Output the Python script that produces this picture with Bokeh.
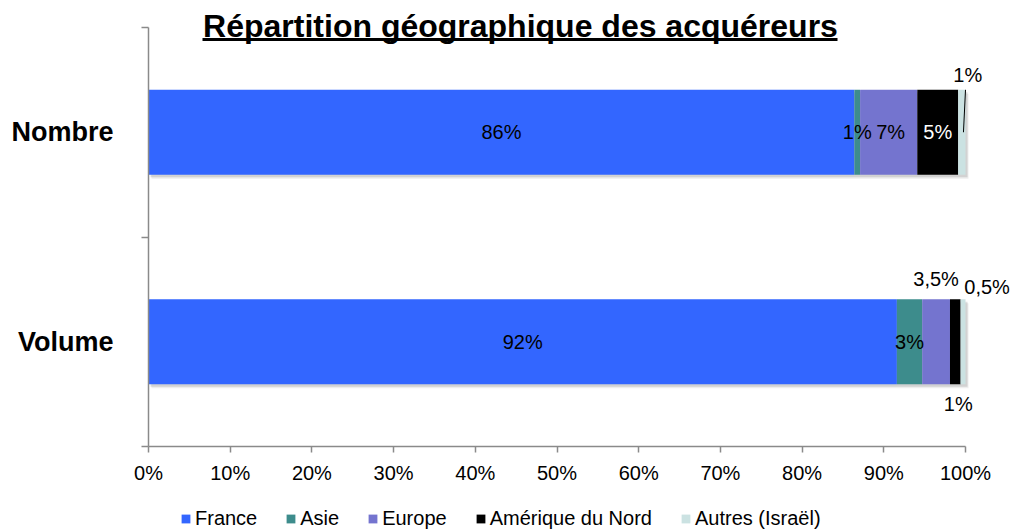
from bokeh.plotting import figure
from bokeh.layouts import column
from bokeh.models import (ColumnDataSource, Range1d, FixedTicker, Legend, LegendItem)
from bokeh.core.properties import value
from bokeh.embed import file_html
from bokeh.resources import INLINE

# ---------------- data ----------------
categories = ["Nombre", "Volume"]
series = ["France", "Asie", "Europe", "Amérique du Nord", "Autres (Israël)"]
nombre_values = [86.4, 0.7, 7.0, 5.0, 0.9]
volume_values = [91.6, 3.1, 3.4, 1.3, 0.6]
nombre_labels = ["86%", "1%", "7%", "5%", "1%"]
volume_labels = ["92%", "3%", "3,5%", "1%", "0,5%"]
x_ticks = [0, 10, 20, 30, 40, 50, 60, 70, 80, 90, 100]
x_tick_labels = ["0%", "10%", "20%", "30%", "40%", "50%", "60%", "70%", "80%", "90%", "100%"]
title_text = "Répartition géographique des acquéreurs"

# ---------------- styles ----------------
colors = ["#3366ff", "#3d8c8c", "#7474cf", "#000000", "#cbe2e2"]
label_colors = {"Nombre": ["black", "black", "black", "white", "black"],
                "Volume": ["black", "black", "black", "black", "black"]}
# pixel offsets of the data labels (x, y)
label_offsets = {"Nombre": [(0, 0), (0, 0), (2, 0), (0, 0), (6, -57)],
                 "Volume": [(0, 0), (0, 0), (0, -63), (3, 62), (24, -55)]}
FONT = "Liberation Sans"
AXIS_COLOR = "#8a8a8a"
BAR_H = 0.405
PX_X = 8.17     # pixels per percent
PX_Y = 209.5    # pixels per category unit
FIG_W = 1010
LEFT = 148
TOP = 8
FRAME_H = 438

values = {"Nombre": nombre_values, "Volume": volume_values}
texts = {"Nombre": nombre_labels, "Volume": volume_labels}
n = len(categories)
ypos = {c: n - i - 0.5 for i, c in enumerate(categories)}

p = figure(width=FIG_W, height=TOP + FRAME_H + 52, output_backend="svg",
           toolbar_location=None,
           x_range=Range1d(0, (FIG_W - LEFT) / PX_X), y_range=Range1d(0, FRAME_H / PX_Y),
           min_border_left=LEFT, min_border_right=0, min_border_top=TOP,
           min_border_bottom=52, x_axis_location="below", y_axis_location="left")
p.outline_line_color = None
p.xgrid.visible = False
p.ygrid.visible = False
p.background_fill_color = "white"

# shadows
for c in categories:
    tot = sum(values[c])
    for dx, dy, a in [(3, 4, 0.10), (2, 2.5, 0.18)]:
        p.hbar(y=[ypos[c] - dy / PX_Y], left=[dx / PX_X], right=[tot + dx / PX_X],
               height=BAR_H, color="#555555", alpha=a, line_color=None)

# stacked bars
keys = ["s%d" % i for i in range(len(series))]
src = {"y": [ypos[c] for c in categories]}
for i, k in enumerate(keys):
    src[k] = [values[c][i] for c in categories]
source = ColumnDataSource(src)
p.hbar_stack(keys, y="y", height=BAR_H, color=colors, line_color=None, source=source)

# data labels
lx, ly, lt, lxo, lyo, lc = [], [], [], [], [], []
for c in categories:
    cum = 0
    for i, v in enumerate(values[c]):
        lx.append(cum + v / 2)
        ly.append(ypos[c])
        lt.append(texts[c][i])
        lxo.append(label_offsets[c][i][0])
        lyo.append(label_offsets[c][i][1])
        lc.append(label_colors[c][i])
        cum += v
p.text(x=lx, y=ly, text=lt, x_offset=lxo, y_offset=lyo, text_color=lc,
       text_align="center", text_baseline="middle", text_font=value(FONT),
       text_font_size="20px")

# leader line for the small "Autres" share of Nombre
tot_n = sum(values["Nombre"])
p.segment(x0=[tot_n], y0=[ypos["Nombre"] + BAR_H / 2], x1=[tot_n - 0.25],
          y1=[ypos["Nombre"]], line_color="black", line_width=1)

# title (underlined) — positions in page pixels converted to data units
y_of = lambda py: (TOP + FRAME_H - py) / PX_Y
x_of = lambda px: (px - LEFT) / PX_X
p.text(x=[x_of(520)], y=[y_of(25)], text=[title_text],
       text_align="center", text_baseline="middle", text_font=value(FONT),
       text_font_style="bold", text_font_size="32px", text_color="black")
p.segment(x0=[x_of(202)], x1=[x_of(837)], y0=[y_of(39)], y1=[y_of(39)],
          line_color="black", line_width=3)

# x axis
xa = p.xaxis[0]
xa.ticker = FixedTicker(ticks=x_ticks, minor_ticks=[])
xa.major_label_overrides = {t: l for t, l in zip(x_ticks, x_tick_labels)}
xa.bounds = (0, 100)
xa.axis_line_color = AXIS_COLOR
xa.axis_line_width = 1.5
xa.major_tick_line_color = AXIS_COLOR
xa.major_tick_line_width = 1.5
xa.major_tick_out = 6
xa.major_tick_in = 0
xa.major_label_standoff = 9
xa.major_label_text_font = FONT
xa.major_label_text_font_size = "20px"
xa.major_label_text_color = "black"

# y axis
ya = p.yaxis[0]
ya.ticker = FixedTicker(ticks=[ypos[c] for c in categories],
                        minor_ticks=[float(i) for i in range(n + 1)])
ya.major_label_overrides = {ypos[c]: c for c in categories}
ya.bounds = (0, n)
ya.axis_line_color = AXIS_COLOR
ya.axis_line_width = 1.5
ya.major_tick_line_color = None
ya.major_tick_out = 0
ya.major_tick_in = 0
ya.minor_tick_line_color = AXIS_COLOR
ya.minor_tick_line_width = 1.5
ya.minor_tick_out = 7
ya.minor_tick_in = 0
ya.major_label_standoff = 28
ya.major_label_text_font = FONT
ya.major_label_text_font_size = "27px"
ya.major_label_text_font_style = "bold"
ya.major_label_text_color = "black"

# legend strip (separate small figure below the chart)
lg = figure(width=FIG_W, height=32, output_backend="svg", toolbar_location=None,
            x_range=Range1d(0, 1), y_range=Range1d(0, 1),
            min_border_left=0, min_border_right=0, min_border_top=0,
            min_border_bottom=0, x_axis_location=None, y_axis_location=None)
lg.outline_line_color = None
lg.xgrid.visible = False
lg.ygrid.visible = False
items = []
for s, col in zip(series, colors):
    # legend swatch renderers: placed outside the visible range of the strip
    r = lg.hbar(y=[-5], left=[0], right=[1], height=1, color=col, line_color=None)
    items.append(LegendItem(label=s, renderers=[r]))
legend = Legend(items=items, orientation="horizontal", location=(32, 0))
legend.label_text_font = FONT
legend.label_text_font_size = "20px"
legend.label_text_color = "black"
legend.glyph_width = 11
legend.glyph_height = 11
legend.label_standoff = 4
legend.spacing = 28
legend.padding = 0
legend.margin = 0
legend.label_height = 20
legend.border_line_color = None
legend.background_fill_alpha = 0
lg.add_layout(legend, "center")

layout = column(p, lg, spacing=0)
open("out.html", "w").write(file_html(layout, INLINE))
